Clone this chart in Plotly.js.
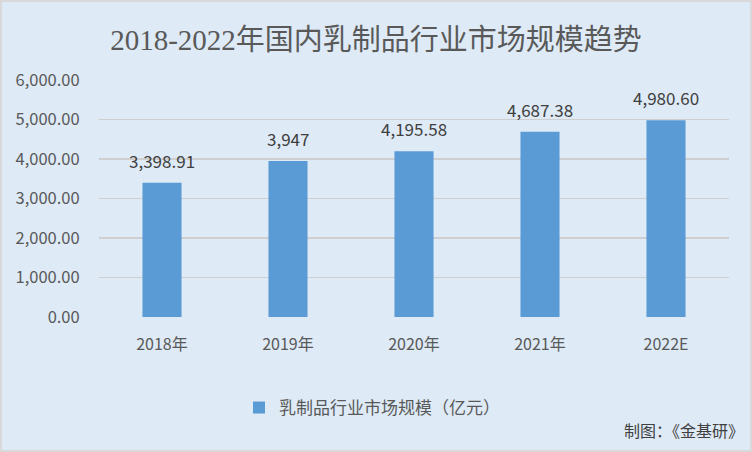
<!DOCTYPE html>
<html>
<head>
<meta charset="utf-8">
<script src="https://cdn.plot.ly/plotly-3.0.1.min.js"></script>
<style>html,body{margin:0;padding:0;background:#DEEAF6;}#chart{width:752px;height:452px;}</style>
</head>
<body>
<div id="chart"></div>
<script>
const categories = ["2018年", "2019年", "2020年", "2021年", "2022E"];
const values = [3398.91, 3947, 4195.58, 4687.38, 4980.60];
const valueLabels = ["3,398.91", "3,947", "4,195.58", "4,687.38", "4,980.60"];
const seriesName = "乳制品行业市场规模（亿元）";
const titleText = "2018-2022年国内乳制品行业市场规模趋势";
const sourceText = "制图：《金基研》";

const cjk = "'Noto Sans CJK SC', 'Noto Sans', sans-serif";

const trace = {
  type: "bar",
  x: categories,
  y: values,
  name: seriesName,
  marker: {color: "#5B9BD5"},
  hoverinfo: "skip"
};

const labelAnnotations = categories.map((c, i) => ({
  x: c, y: values[i], xref: "x", yref: "y",
  text: valueLabels[i],
  showarrow: false,
  yanchor: "bottom", yshift: 8,
  font: {family: cjk, size: 17, color: "#404040"}
}));

const layout = {
  width: 752, height: 452,
  paper_bgcolor: "#DEEAF6",
  plot_bgcolor: "#DEEAF6",
  margin: {l: 99, r: 23, t: 80, b: 135},
  bargap: 0.69,
  showlegend: true,
  title: {
    text: titleText,
    font: {family: "'Liberation Serif', 'Noto Sans CJK SC', serif", size: 29, color: "#595959"},
    x: 0.5, xanchor: "center", xref: "container",
    y: 1 - 40/452, yanchor: "middle", yref: "container"
  },
  xaxis: {
    type: "category",
    tickfont: {family: cjk, size: 16, color: "#595959"},
    showgrid: false, zeroline: false, showline: false,
    ticks: "outside", ticklen: 13, tickcolor: "rgba(0,0,0,0)"
  },
  yaxis: {
    range: [0, 6000],
    dtick: 1000,
    tickformat: ",.2f",
    tickfont: {family: cjk, size: 16.5, color: "#595959"},
    gridcolor: "#CFCFCF", gridwidth: 1.5,
    zeroline: false, showline: false,
    ticks: "outside", ticklen: 15, tickcolor: "rgba(0,0,0,0)"
  },
  legend: {
    orientation: "h",
    x: (372 - 99) / 630, xanchor: "center",
    y: (317 - 408) / 237, yanchor: "middle",
    itemwidth: 30,
    font: {family: cjk, size: 17, color: "#595959"},
    bgcolor: "rgba(0,0,0,0)"
  },
  annotations: labelAnnotations.concat([{
    text: sourceText,
    xref: "paper", yref: "paper",
    x: (746 - 99) / 630, xanchor: "right",
    y: (317 - 430) / 237, yanchor: "middle",
    showarrow: false,
    font: {family: cjk, size: 16, color: "#404040"}
  }]),
  shapes: [{
    type: "rect", xref: "paper", yref: "paper",
    x0: -99/630, x1: (752 - 99)/630,
    y0: -135/237, y1: (237 + 80) / 237,
    line: {color: "#D9D9D9", width: 4}, fillcolor: "rgba(0,0,0,0)", layer: "above"
  }]
};

Plotly.newPlot("chart", [trace], layout, {displayModeBar: false, staticPlot: true});
</script>
</body>
</html>
